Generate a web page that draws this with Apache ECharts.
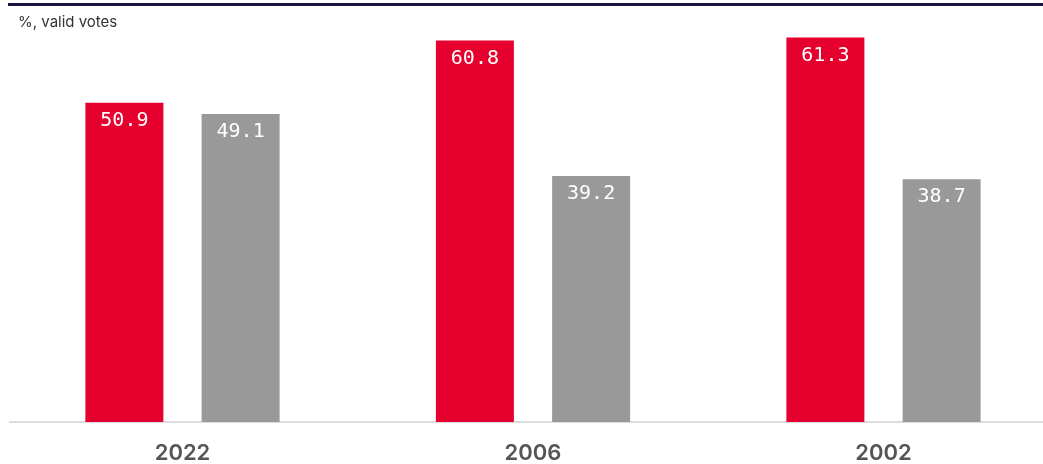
<!DOCTYPE html>
<html>
<head>
<meta charset="utf-8">
<script src="https://cdn.jsdelivr.net/npm/echarts@6/dist/echarts.min.js"></script>
<style>html,body{margin:0;padding:0;background:#fff}#c{width:1043px;height:464px}</style>
</head>
<body>
<div id="c"></div>
<script>
const categories = ['2022', '2006', '2002'];
const seriesA = [50.9, 60.8, 61.3];
const seriesB = [49.1, 39.2, 38.7];
const unitLabel = '%, valid votes';

const chart = echarts.init(document.getElementById('c'), null, {renderer: 'canvas'});
const labelStyle = {
  show: true, position: 'insideTop', distance: 8, color: '#fff',
  fontFamily: 'DejaVu Sans Mono', fontSize: 20,
  formatter: p => p.value.toFixed(1)
};
chart.setOption({
  animation: false,
  backgroundColor: '#fff',
  graphic: [
    {type: 'rect', shape: {x: 8, y: 3, width: 1040, height: 3}, style: {fill: '#1b1240'}},
    {type: 'text', left: 18, top: 15, style: {text: unitLabel, fill: '#333', font: '15px Inter'}},
    {type: 'line', z: 1, shape: {x1: 9, y1: 422, x2: 1043, y2: 422}, style: {stroke: '#dcdcdc', lineWidth: 2}}
  ],
  grid: {left: 182.5, right: 159.5, top: 33, bottom: 42, containLabel: false},
  xAxis: {
    type: 'category', data: categories, boundaryGap: false,
    axisLine: {show: false},
    axisTick: {show: false},
    axisLabel: {color: '#555', fontFamily: 'Inter', fontWeight: 600, fontSize: 22, margin: 20}
  },
  yAxis: {type: 'value', min: 0, max: 62, show: false, splitLine: {show: false}},
  series: [
    {type: 'bar', data: seriesA, barWidth: 78, barGap: '49%', itemStyle: {color: '#e6002e'}, label: labelStyle, z: 3},
    {type: 'bar', data: seriesB, barWidth: 78, itemStyle: {color: '#999999'}, label: labelStyle, z: 3}
  ]
});
</script>
</body>
</html>
